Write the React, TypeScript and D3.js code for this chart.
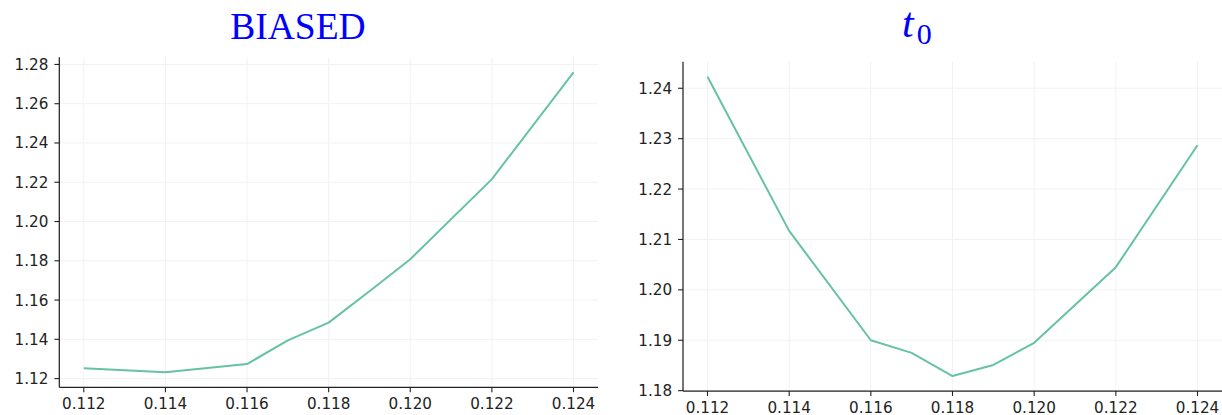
import React from "react";
import * as d3 from "d3";

const xValues = [0.112, 0.114, 0.116, 0.117, 0.118, 0.119, 0.12, 0.122, 0.124];
const biasedValues = [1.1252, 1.1232, 1.1274, 1.1395, 1.1485, 1.1645, 1.1808, 1.2216, 1.276];
const t0Values = [1.2423, 1.2117, 1.19, 1.1875, 1.1829, 1.1851, 1.1895, 1.2045, 1.2287];
const xTicks = [0.112, 0.114, 0.116, 0.118, 0.12, 0.122, 0.124];
const biasedYTicks = [1.12, 1.14, 1.16, 1.18, 1.2, 1.22, 1.24, 1.26, 1.28];
const t0YTicks = [1.18, 1.19, 1.2, 1.21, 1.22, 1.23, 1.24];

const LINE = "#66c2a5";
const INK = "#222";
const GRID = "#f2f2f2";

function padded(vals: number[]): [number, number] {
  const [a, b] = d3.extent(vals) as [number, number];
  const m = (b - a) * 0.05;
  return [a - m, b + m];
}

type PanelProps = {
  values: number[];
  yTicks: number[];
  left: number;
  right: number;
  top: number;
  bottom: number;
};

function Panel({ values, yTicks, left, right, top, bottom }: PanelProps) {
  const x = d3.scaleLinear().domain(padded(xValues)).range([left, right]);
  const y = d3.scaleLinear().domain(padded(values)).range([bottom, top]);
  const line = d3
    .line<number>()
    .x((_, i) => x(xValues[i]))
    .y((d) => y(d));
  const fmtX = d3.format(".3f");
  const fmtY = d3.format(".2f");
  const tickLen = 4.9;
  return (
    <g>
      {xTicks.map((t) => (
        <line key={"gx" + t} x1={x(t)} x2={x(t)} y1={top} y2={bottom} stroke={GRID} strokeWidth={1} />
      ))}
      {yTicks.map((t) => (
        <line key={"gy" + t} x1={left} x2={right} y1={y(t)} y2={y(t)} stroke={GRID} strokeWidth={1} />
      ))}
      <path d={line(values) || ""} fill="none" stroke={LINE} strokeWidth={2} strokeLinejoin="round" />
      <line x1={left} x2={left} y1={top} y2={bottom} stroke={INK} strokeWidth={1.25} />
      <line x1={left} x2={right} y1={bottom} y2={bottom} stroke={INK} strokeWidth={1.25} />
      {xTicks.map((t) => (
        <g key={"tx" + t}>
          <line x1={x(t)} x2={x(t)} y1={bottom} y2={bottom + tickLen} stroke={INK} strokeWidth={1.1} />
          <text
            x={x(t)}
            y={bottom + 21.5}
            textAnchor="middle"
            fontFamily="DejaVu Sans"
            fontSize={15.2}
            fill={INK}
          >
            {fmtX(t)}
          </text>
        </g>
      ))}
      {yTicks.map((t) => (
        <g key={"ty" + t}>
          <line x1={left - tickLen} x2={left} y1={y(t)} y2={y(t)} stroke={INK} strokeWidth={1.1} />
          <text
            x={left - tickLen - 6}
            y={y(t)}
            dy="0.36em"
            textAnchor="end"
            fontFamily="DejaVu Sans"
            fontSize={15.2}
            fill={INK}
          >
            {fmtY(t)}
          </text>
        </g>
      ))}
    </g>
  );
}

export default function App() {
  return (
    <svg
      width={1222}
      height={415}
      style={{ position: "absolute", left: 0, top: 0, background: "#fff" }}
    >
      <rect x={0} y={0} width={1222} height={415} fill="#fff" />
      <text x={298} y={38.5} textAnchor="middle" fontFamily="Liberation Serif" fontSize={37.5} fill="#0000ff">
        BIASED
      </text>
      <text x={902} y={37} fontFamily="Liberation Serif" fontSize={42} fontStyle="italic" fill="#0000ff">
        t
        <tspan fontStyle="normal" fontSize={30} dy={6.5} dx={3}>
          0
        </tspan>
      </text>
      <Panel values={biasedValues} yTicks={biasedYTicks} left={59.3} right={598} top={57.3} bottom={387.3} />
      <Panel values={t0Values} yTicks={t0YTicks} left={683} right={1222} top={61.7} bottom={391} />
    </svg>
  );
}
